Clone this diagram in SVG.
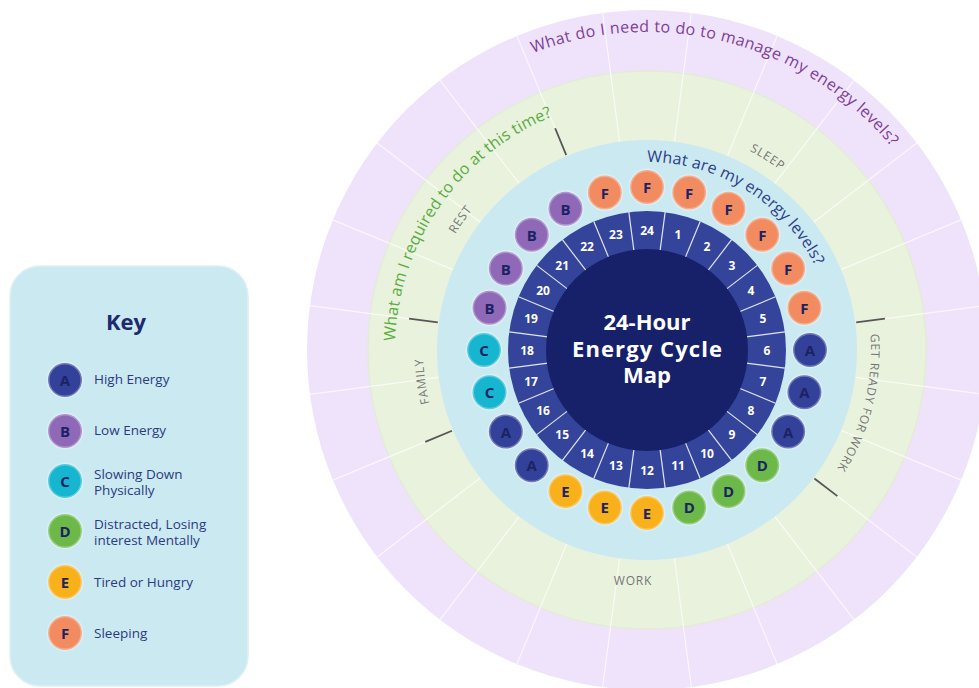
<svg xmlns="http://www.w3.org/2000/svg" width="979" height="688" viewBox="0 0 979 688">
  <style>
    .ring-line { stroke: #ffffff; stroke-width: 1.2; stroke-opacity: 0.7; }
    .tick { stroke: #555555; stroke-width: 1.8; }
    .sep { stroke: #ffffff; stroke-width: 1.2; stroke-opacity: 0.85; }
    .num { font-family: "Open Sans", "Liberation Sans", sans-serif; font-weight: 700; font-size: 12px; fill: #ffffff; text-anchor: middle; dominant-baseline: central; }
    .badge-t { font-family: "Open Sans", "Liberation Sans", sans-serif; font-weight: 700; font-size: 15px; fill: #1b2363; text-anchor: middle; dominant-baseline: central; }
    .halo { stroke: #ffffff; stroke-opacity: 0.3; stroke-width: 3; }
    .A { fill: #33419a; }
    .B { fill: #9068b8; }
    .C { fill: #16b5d0; }
    .D { fill: #6cb94a; }
    .E { fill: #f9b11b; }
    .F { fill: #f28c60; }
    .sector { font-family: "Open Sans", "Liberation Sans", sans-serif; font-size: 12px; fill: #767676; letter-spacing: 0.8px; }
    .question { font-family: "Open Sans", "Liberation Sans", sans-serif; font-size: 16px; }
    .title { font-family: "Open Sans", "Liberation Sans", sans-serif; font-weight: 700; font-size: 22px; fill: #ffffff; text-anchor: middle; }
    .key-title { font-family: "Open Sans", "Liberation Sans", sans-serif; font-weight: 700; font-size: 22px; fill: #1e2a6e; text-anchor: middle; }
    .key-label { font-family: "Open Sans", "Liberation Sans", sans-serif; font-size: 13.5px; fill: #2b3a80; }
  </style>
  <defs>
    <path id="arc-energy" d="M 647 162 A 188 188 0 0 1 816 267.6"/>
    <path id="arc-required" d="M 395.2 341.2 A 252 252 0 0 1 556.7 114.7"/>
    <path id="arc-manage" d="M 533 53.1 A 318 318 0 0 1 894.1 149.9"/>
    <path id="arc-sleep" d="M 615.8 128.2 A 224 224 0 0 1 860 280.8"/>
    <path id="arc-ready" d="M 828.2 218.3 A 224 224 0 0 1 745.2 551.3"/>
    <path id="arc-family" d="M 497.1 516.4 A 224 224 0 0 1 457 231.3"/>
    <path id="arc-rest" d="M 423.9 369.5 A 224 224 0 0 1 589 133.6"/>
  </defs>

  <rect width="979" height="688" fill="#ffffff"/>

  <!-- concentric rings -->
  <g id="rings">
    <circle cx="647" cy="350" r="340" fill="#efe2fb"/>
    <circle cx="647" cy="350" r="279" fill="#e9f2dd" stroke="#e3ecd4" stroke-width="1.5"/>
    <g transform="translate(647 350)">
      <line class="ring-line" x1="0" y1="-210" x2="0" y2="-340" transform="rotate(7.5)"/>
      <line class="ring-line" x1="0" y1="-210" x2="0" y2="-340" transform="rotate(22.5)"/>
      <line class="ring-line" x1="0" y1="-210" x2="0" y2="-340" transform="rotate(37.5)"/>
      <line class="ring-line" x1="0" y1="-210" x2="0" y2="-340" transform="rotate(52.5)"/>
      <line class="ring-line" x1="0" y1="-210" x2="0" y2="-340" transform="rotate(67.5)"/>
      <line class="ring-line" x1="0" y1="-210" x2="0" y2="-340" transform="rotate(82.5)"/>
      <line class="ring-line" x1="0" y1="-210" x2="0" y2="-340" transform="rotate(97.5)"/>
      <line class="ring-line" x1="0" y1="-210" x2="0" y2="-340" transform="rotate(112.5)"/>
      <line class="ring-line" x1="0" y1="-210" x2="0" y2="-340" transform="rotate(127.5)"/>
      <line class="ring-line" x1="0" y1="-210" x2="0" y2="-340" transform="rotate(142.5)"/>
      <line class="ring-line" x1="0" y1="-210" x2="0" y2="-340" transform="rotate(157.5)"/>
      <line class="ring-line" x1="0" y1="-210" x2="0" y2="-340" transform="rotate(172.5)"/>
      <line class="ring-line" x1="0" y1="-210" x2="0" y2="-340" transform="rotate(187.5)"/>
      <line class="ring-line" x1="0" y1="-210" x2="0" y2="-340" transform="rotate(202.5)"/>
      <line class="ring-line" x1="0" y1="-210" x2="0" y2="-340" transform="rotate(217.5)"/>
      <line class="ring-line" x1="0" y1="-210" x2="0" y2="-340" transform="rotate(232.5)"/>
      <line class="ring-line" x1="0" y1="-210" x2="0" y2="-340" transform="rotate(247.5)"/>
      <line class="ring-line" x1="0" y1="-210" x2="0" y2="-340" transform="rotate(262.5)"/>
      <line class="ring-line" x1="0" y1="-210" x2="0" y2="-340" transform="rotate(277.5)"/>
      <line class="ring-line" x1="0" y1="-210" x2="0" y2="-340" transform="rotate(292.5)"/>
      <line class="ring-line" x1="0" y1="-210" x2="0" y2="-340" transform="rotate(307.5)"/>
      <line class="ring-line" x1="0" y1="-210" x2="0" y2="-340" transform="rotate(322.5)"/>
      <line class="ring-line" x1="0" y1="-210" x2="0" y2="-340" transform="rotate(337.5)"/>
      <line class="ring-line" x1="0" y1="-210" x2="0" y2="-340" transform="rotate(352.5)"/>
    </g>
    <circle cx="647" cy="350" r="210" fill="#cbe9f1"/>
    <!-- sector boundary ticks -->
    <g transform="translate(647 350)">
      <line class="tick" x1="0" y1="-211" x2="0" y2="-240" transform="rotate(337.5)"/>
      <line class="tick" x1="0" y1="-211" x2="0" y2="-240" transform="rotate(82.5)"/>
      <line class="tick" x1="0" y1="-211" x2="0" y2="-240" transform="rotate(127.5)"/>
      <line class="tick" x1="0" y1="-211" x2="0" y2="-240" transform="rotate(247.5)"/>
      <line class="tick" x1="0" y1="-211" x2="0" y2="-240" transform="rotate(277.5)"/>
    </g>
  </g>

  <!-- ring questions and activity sectors -->
  <g id="ring-labels">
    <text class="question" fill="#7d3f98"><textPath href="#arc-manage" textLength="395" lengthAdjust="spacing">What do I need to do to manage my energy levels?</textPath></text>
    <text class="question" fill="#5aac3f"><textPath href="#arc-required" textLength="290" lengthAdjust="spacing">What am I required to do at this time?</textPath></text>
    <text class="question" fill="#2c3e8a"><textPath href="#arc-energy" textLength="208" lengthAdjust="spacing">What are my energy levels?</textPath></text>
    <text class="sector" text-anchor="middle"><textPath href="#arc-sleep" startOffset="50%">SLEEP</textPath></text>
    <text class="sector" text-anchor="middle"><textPath href="#arc-ready" startOffset="50%">GET READY FOR WORK</textPath></text>
    <text class="sector" text-anchor="middle"><textPath href="#arc-family" startOffset="50%">FAMILY</textPath></text>
    <text class="sector" text-anchor="middle"><textPath href="#arc-rest" startOffset="50%">REST</textPath></text>
    <text class="sector" x="633" y="585" text-anchor="middle">WORK</text>
  </g>

  <!-- hour ring -->
  <g id="hour-ring">
    <circle cx="647" cy="350" r="139" fill="#34449a"/>
    <g transform="translate(647 350)">
      <line class="sep" x1="0" y1="-100" x2="0" y2="-139" transform="rotate(7.5)"/>
      <line class="sep" x1="0" y1="-100" x2="0" y2="-139" transform="rotate(22.5)"/>
      <line class="sep" x1="0" y1="-100" x2="0" y2="-139" transform="rotate(37.5)"/>
      <line class="sep" x1="0" y1="-100" x2="0" y2="-139" transform="rotate(52.5)"/>
      <line class="sep" x1="0" y1="-100" x2="0" y2="-139" transform="rotate(67.5)"/>
      <line class="sep" x1="0" y1="-100" x2="0" y2="-139" transform="rotate(82.5)"/>
      <line class="sep" x1="0" y1="-100" x2="0" y2="-139" transform="rotate(97.5)"/>
      <line class="sep" x1="0" y1="-100" x2="0" y2="-139" transform="rotate(112.5)"/>
      <line class="sep" x1="0" y1="-100" x2="0" y2="-139" transform="rotate(127.5)"/>
      <line class="sep" x1="0" y1="-100" x2="0" y2="-139" transform="rotate(142.5)"/>
      <line class="sep" x1="0" y1="-100" x2="0" y2="-139" transform="rotate(157.5)"/>
      <line class="sep" x1="0" y1="-100" x2="0" y2="-139" transform="rotate(172.5)"/>
      <line class="sep" x1="0" y1="-100" x2="0" y2="-139" transform="rotate(187.5)"/>
      <line class="sep" x1="0" y1="-100" x2="0" y2="-139" transform="rotate(202.5)"/>
      <line class="sep" x1="0" y1="-100" x2="0" y2="-139" transform="rotate(217.5)"/>
      <line class="sep" x1="0" y1="-100" x2="0" y2="-139" transform="rotate(232.5)"/>
      <line class="sep" x1="0" y1="-100" x2="0" y2="-139" transform="rotate(247.5)"/>
      <line class="sep" x1="0" y1="-100" x2="0" y2="-139" transform="rotate(262.5)"/>
      <line class="sep" x1="0" y1="-100" x2="0" y2="-139" transform="rotate(277.5)"/>
      <line class="sep" x1="0" y1="-100" x2="0" y2="-139" transform="rotate(292.5)"/>
      <line class="sep" x1="0" y1="-100" x2="0" y2="-139" transform="rotate(307.5)"/>
      <line class="sep" x1="0" y1="-100" x2="0" y2="-139" transform="rotate(322.5)"/>
      <line class="sep" x1="0" y1="-100" x2="0" y2="-139" transform="rotate(337.5)"/>
      <line class="sep" x1="0" y1="-100" x2="0" y2="-139" transform="rotate(352.5)"/>
      <text class="num" transform="rotate(0) translate(0 -120) rotate(0)">24</text>
      <text class="num" transform="rotate(15) translate(0 -120) rotate(-15)">1</text>
      <text class="num" transform="rotate(30) translate(0 -120) rotate(-30)">2</text>
      <text class="num" transform="rotate(45) translate(0 -120) rotate(-45)">3</text>
      <text class="num" transform="rotate(60) translate(0 -120) rotate(-60)">4</text>
      <text class="num" transform="rotate(75) translate(0 -120) rotate(-75)">5</text>
      <text class="num" transform="rotate(90) translate(0 -120) rotate(-90)">6</text>
      <text class="num" transform="rotate(105) translate(0 -120) rotate(-105)">7</text>
      <text class="num" transform="rotate(120) translate(0 -120) rotate(-120)">8</text>
      <text class="num" transform="rotate(135) translate(0 -120) rotate(-135)">9</text>
      <text class="num" transform="rotate(150) translate(0 -120) rotate(-150)">10</text>
      <text class="num" transform="rotate(165) translate(0 -120) rotate(-165)">11</text>
      <text class="num" transform="rotate(180) translate(0 -120) rotate(-180)">12</text>
      <text class="num" transform="rotate(195) translate(0 -120) rotate(-195)">13</text>
      <text class="num" transform="rotate(210) translate(0 -120) rotate(-210)">14</text>
      <text class="num" transform="rotate(225) translate(0 -120) rotate(-225)">15</text>
      <text class="num" transform="rotate(240) translate(0 -120) rotate(-240)">16</text>
      <text class="num" transform="rotate(255) translate(0 -120) rotate(-255)">17</text>
      <text class="num" transform="rotate(270) translate(0 -120) rotate(-270)">18</text>
      <text class="num" transform="rotate(285) translate(0 -120) rotate(-285)">19</text>
      <text class="num" transform="rotate(300) translate(0 -120) rotate(-300)">20</text>
      <text class="num" transform="rotate(315) translate(0 -120) rotate(-315)">21</text>
      <text class="num" transform="rotate(330) translate(0 -120) rotate(-330)">22</text>
      <text class="num" transform="rotate(345) translate(0 -120) rotate(-345)">23</text>
    </g>
  </g>

  <!-- centre title -->
  <g id="centre">
    <circle cx="647" cy="350" r="101" fill="#17216a"/>
    <text class="title" x="647" y="330">24-Hour</text>
    <text class="title" x="647" y="357" textLength="150" lengthAdjust="spacing">Energy Cycle</text>
    <text class="title" x="647" y="383">Map</text>
  </g>

  <!-- energy state for each hour -->
  <g id="hour-badges" transform="translate(647 350)">
    <g id="h24" transform="rotate(0) translate(0 -163) rotate(0)"><circle class="F halo" r="17"/><text class="badge-t">F</text></g>
    <g id="h1" transform="rotate(15) translate(0 -163) rotate(-15)"><circle class="F halo" r="17"/><text class="badge-t">F</text></g>
    <g id="h2" transform="rotate(30) translate(0 -163) rotate(-30)"><circle class="F halo" r="17"/><text class="badge-t">F</text></g>
    <g id="h3" transform="rotate(45) translate(0 -163) rotate(-45)"><circle class="F halo" r="17"/><text class="badge-t">F</text></g>
    <g id="h4" transform="rotate(60) translate(0 -163) rotate(-60)"><circle class="F halo" r="17"/><text class="badge-t">F</text></g>
    <g id="h5" transform="rotate(75) translate(0 -163) rotate(-75)"><circle class="F halo" r="17"/><text class="badge-t">F</text></g>
    <g id="h6" transform="rotate(90) translate(0 -163) rotate(-90)"><circle class="A halo" r="17"/><text class="badge-t">A</text></g>
    <g id="h7" transform="rotate(105) translate(0 -163) rotate(-105)"><circle class="A halo" r="17"/><text class="badge-t">A</text></g>
    <g id="h8" transform="rotate(120) translate(0 -163) rotate(-120)"><circle class="A halo" r="17"/><text class="badge-t">A</text></g>
    <g id="h9" transform="rotate(135) translate(0 -163) rotate(-135)"><circle class="D halo" r="17"/><text class="badge-t">D</text></g>
    <g id="h10" transform="rotate(150) translate(0 -163) rotate(-150)"><circle class="D halo" r="17"/><text class="badge-t">D</text></g>
    <g id="h11" transform="rotate(165) translate(0 -163) rotate(-165)"><circle class="D halo" r="17"/><text class="badge-t">D</text></g>
    <g id="h12" transform="rotate(180) translate(0 -163) rotate(-180)"><circle class="E halo" r="17"/><text class="badge-t">E</text></g>
    <g id="h13" transform="rotate(195) translate(0 -163) rotate(-195)"><circle class="E halo" r="17"/><text class="badge-t">E</text></g>
    <g id="h14" transform="rotate(210) translate(0 -163) rotate(-210)"><circle class="E halo" r="17"/><text class="badge-t">E</text></g>
    <g id="h15" transform="rotate(225) translate(0 -163) rotate(-225)"><circle class="A halo" r="17"/><text class="badge-t">A</text></g>
    <g id="h16" transform="rotate(240) translate(0 -163) rotate(-240)"><circle class="A halo" r="17"/><text class="badge-t">A</text></g>
    <g id="h17" transform="rotate(255) translate(0 -163) rotate(-255)"><circle class="C halo" r="17"/><text class="badge-t">C</text></g>
    <g id="h18" transform="rotate(270) translate(0 -163) rotate(-270)"><circle class="C halo" r="17"/><text class="badge-t">C</text></g>
    <g id="h19" transform="rotate(285) translate(0 -163) rotate(-285)"><circle class="B halo" r="17"/><text class="badge-t">B</text></g>
    <g id="h20" transform="rotate(300) translate(0 -163) rotate(-300)"><circle class="B halo" r="17"/><text class="badge-t">B</text></g>
    <g id="h21" transform="rotate(315) translate(0 -163) rotate(-315)"><circle class="B halo" r="17"/><text class="badge-t">B</text></g>
    <g id="h22" transform="rotate(330) translate(0 -163) rotate(-330)"><circle class="B halo" r="17"/><text class="badge-t">B</text></g>
    <g id="h23" transform="rotate(345) translate(0 -163) rotate(-345)"><circle class="F halo" r="17"/><text class="badge-t">F</text></g>
  </g>

  <!-- key panel -->
  <g id="key">
    <rect x="10" y="266" width="238" height="420" rx="30" fill="#cbe9f1" stroke="#def1f6" stroke-width="1.5"/>
    <text class="key-title" x="126" y="330">Key</text>
    <g id="key-A"><circle class="A halo" cx="65" cy="380" r="17"/><text class="badge-t" x="65" y="380" font-size="14">A</text><text class="key-label" x="94" y="384">High Energy</text></g>
    <g id="key-B"><circle class="B halo" cx="65" cy="431" r="17"/><text class="badge-t" x="65" y="431" font-size="14">B</text><text class="key-label" x="94" y="435">Low Energy</text></g>
    <g id="key-C"><circle class="C halo" cx="65" cy="481" r="17"/><text class="badge-t" x="65" y="481" font-size="14">C</text><text class="key-label" x="94" y="479">Slowing Down</text><text class="key-label" x="94" y="495">Physically</text></g>
    <g id="key-D"><circle class="D halo" cx="65" cy="531" r="17"/><text class="badge-t" x="65" y="531" font-size="14">D</text><text class="key-label" x="94" y="529">Distracted, Losing</text><text class="key-label" x="94" y="545">interest Mentally</text></g>
    <g id="key-E"><circle class="E halo" cx="65" cy="582" r="17"/><text class="badge-t" x="65" y="582" font-size="14">E</text><text class="key-label" x="94" y="587">Tired or Hungry</text></g>
    <g id="key-F"><circle class="F halo" cx="65" cy="633" r="17"/><text class="badge-t" x="65" y="633" font-size="14">F</text><text class="key-label" x="94" y="638">Sleeping</text></g>
  </g>
</svg>
